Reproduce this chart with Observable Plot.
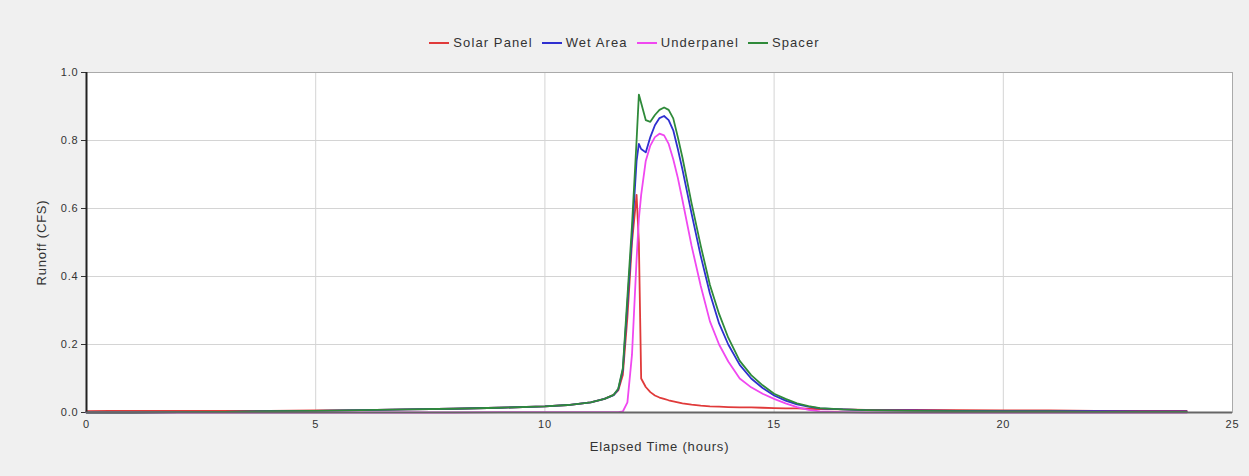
<!DOCTYPE html>
<html>
<head>
<meta charset="utf-8">
<script src="https://cdn.jsdelivr.net/npm/d3@7"></script>
<script src="https://cdn.jsdelivr.net/npm/@observablehq/plot@0.6"></script>
<style>
  html, body { margin: 0; padding: 0; background: #f0f0f0; }
  body { width: 1249px; height: 476px; overflow: hidden; font-family: "Liberation Sans", Arial, sans-serif; }
  #legend { height: 56px; box-sizing: border-box; padding-top: 30px; display: flex; justify-content: center; gap: 9px; font-size: 13px; letter-spacing: 1.1px; color: #333; line-height: 16px; }
  .item { display: flex; align-items: center; gap: 4px; }
  .sw { width: 20px; height: 2px; display: inline-block; }
  #chart svg { display: block; }
  #chart g[aria-label="x-axis tick label"], #chart g[aria-label="y-axis tick label"] { font-size: 11px; letter-spacing: 0.8px; }
  #chart g[aria-label="x-axis label"], #chart g[aria-label="y-axis label"] { font-size: 13px; letter-spacing: 0.8px; }
</style>
</head>
<body>
<div id="legend"></div>
<div id="chart"></div>
<script>
const hours = [0, 0.5, 1, 2, 3, 4, 5, 6, 7, 8, 9, 10, 10.5, 11, 11.3, 11.5, 11.6, 11.7, 11.8, 11.9,
  12.0, 12.05, 12.1, 12.2, 12.3, 12.4, 12.5, 12.6, 12.7, 12.8, 12.9, 13.0, 13.2, 13.4, 13.6, 13.8,
  14.0, 14.25, 14.5, 14.75, 15.0, 15.25, 15.5, 15.75, 16.0, 16.5, 17, 18, 19, 20, 21, 22, 23, 24];

const solarPanel = [0.004, 0.005, 0.005, 0.005, 0.005, 0.005, 0.006, 0.007, 0.009, 0.011, 0.014, 0.018, 0.022, 0.03, 0.04, 0.052, 0.065, 0.11, 0.28, 0.5,
  0.64, 0.5, 0.10, 0.075, 0.06, 0.05, 0.044, 0.04, 0.036, 0.033, 0.03, 0.027, 0.023, 0.02, 0.018, 0.017,
  0.016, 0.015, 0.015, 0.014, 0.013, 0.012, 0.012, 0.011, 0.01, 0.009, 0.008, 0.008, 0.007, 0.006, 0.006, 0.005, 0.005, 0.005];

const wetArea = [0, 0, 0, 0.001, 0.002, 0.004, 0.005, 0.007, 0.009, 0.011, 0.014, 0.018, 0.022, 0.03, 0.04, 0.051, 0.068, 0.125, 0.32, 0.52,
  0.74, 0.79, 0.775, 0.765, 0.81, 0.845, 0.866, 0.872, 0.86, 0.83, 0.775, 0.715, 0.585, 0.46, 0.35, 0.262,
  0.2, 0.14, 0.1, 0.072, 0.05, 0.035, 0.024, 0.017, 0.012, 0.009, 0.007, 0.006, 0.005, 0.004, 0.004, 0.004, 0.003, 0.003];

const underpanel = [0, 0, 0, 0, 0, 0, 0, 0, 0, 0, 0.001, 0.001, 0.001, 0.001, 0.001, 0.001, 0.001, 0.003, 0.03, 0.17,
  0.45, 0.57, 0.64, 0.74, 0.785, 0.81, 0.82, 0.815, 0.79, 0.745, 0.69, 0.625, 0.49, 0.372, 0.268, 0.2,
  0.15, 0.1, 0.074, 0.055, 0.04, 0.027, 0.016, 0.008, 0.003, 0.001, 0, 0, 0, 0, 0, 0, 0, 0];

const spacer = [0, 0, 0, 0.001, 0.002, 0.004, 0.005, 0.007, 0.009, 0.011, 0.014, 0.018, 0.022, 0.03, 0.04, 0.052, 0.07, 0.13, 0.34, 0.55,
  0.80, 0.935, 0.91, 0.86, 0.855, 0.875, 0.89, 0.897, 0.89, 0.865, 0.81, 0.75, 0.615, 0.49, 0.375, 0.29,
  0.22, 0.152, 0.11, 0.08, 0.055, 0.04, 0.027, 0.019, 0.013, 0.009, 0.007, 0.005, 0.004, 0.003, 0.003, 0.002, 0.002, 0.002];

const seriesNames = ["Solar Panel", "Wet Area", "Underpanel", "Spacer"];
const seriesColors = ["#e03a3a", "#2f2fd0", "#f048f0", "#2f8a3a"];
const xTicks = [0, 5, 10, 15, 20, 25];
const yTicks = [0, 0.2, 0.4, 0.6, 0.8, 1.0];

const seriesValues = [solarPanel, wetArea, underpanel, spacer];
const rows = [];
seriesNames.forEach((name, i) => {
  hours.forEach((h, j) => rows.push({series: name, hour: h, value: seriesValues[i][j]}));
});

// legend
const legend = document.getElementById("legend");
seriesNames.forEach((name, i) => {
  const it = document.createElement("span");
  it.className = "item";
  const sw = document.createElement("span");
  sw.className = "sw";
  sw.style.background = seriesColors[i];
  const tx = document.createElement("span");
  tx.textContent = name;
  it.appendChild(sw); it.appendChild(tx);
  legend.appendChild(it);
});

const chart = Plot.plot({
  width: 1249,
  height: 420,
  marginTop: 16,
  marginLeft: 86,
  marginRight: 17,
  marginBottom: 64,
  style: {background: "#f0f0f0", fontFamily: "'Liberation Sans', Arial, sans-serif", fontSize: "12px", color: "#333"},
  x: {domain: [0, 25]},
  y: {domain: [0, 1]},
  color: {domain: seriesNames, range: seriesColors},
  marks: [
    Plot.frame({fill: "white", stroke: "none"}),
    Plot.gridX(xTicks, {stroke: "#d4d4d4", strokeOpacity: 1}),
    Plot.gridY(yTicks, {stroke: "#d4d4d4", strokeOpacity: 1}),
    Plot.frame({stroke: "#aaa"}),
    Plot.axisX({ticks: xTicks, tickSize: 0, tickPadding: 8, label: "Elapsed Time (hours)", labelAnchor: "center", labelArrow: "none", labelOffset: 38}),
    Plot.axisY({ticks: yTicks, tickFormat: d => d.toFixed(1), tickSize: 5, tickPadding: 3, label: "Runoff (CFS)", labelAnchor: "center", labelArrow: "none", labelOffset: 50}),
    Plot.lineY(rows, {x: "hour", y: "value", stroke: "series", strokeWidth: 1.8, z: "series"}),
    Plot.ruleX([0], {stroke: "#222", strokeWidth: 2}),
    Plot.ruleY([0], {stroke: "#666", strokeWidth: 2})
  ]
});
document.getElementById("chart").appendChild(chart);
</script>
</body>
</html>
